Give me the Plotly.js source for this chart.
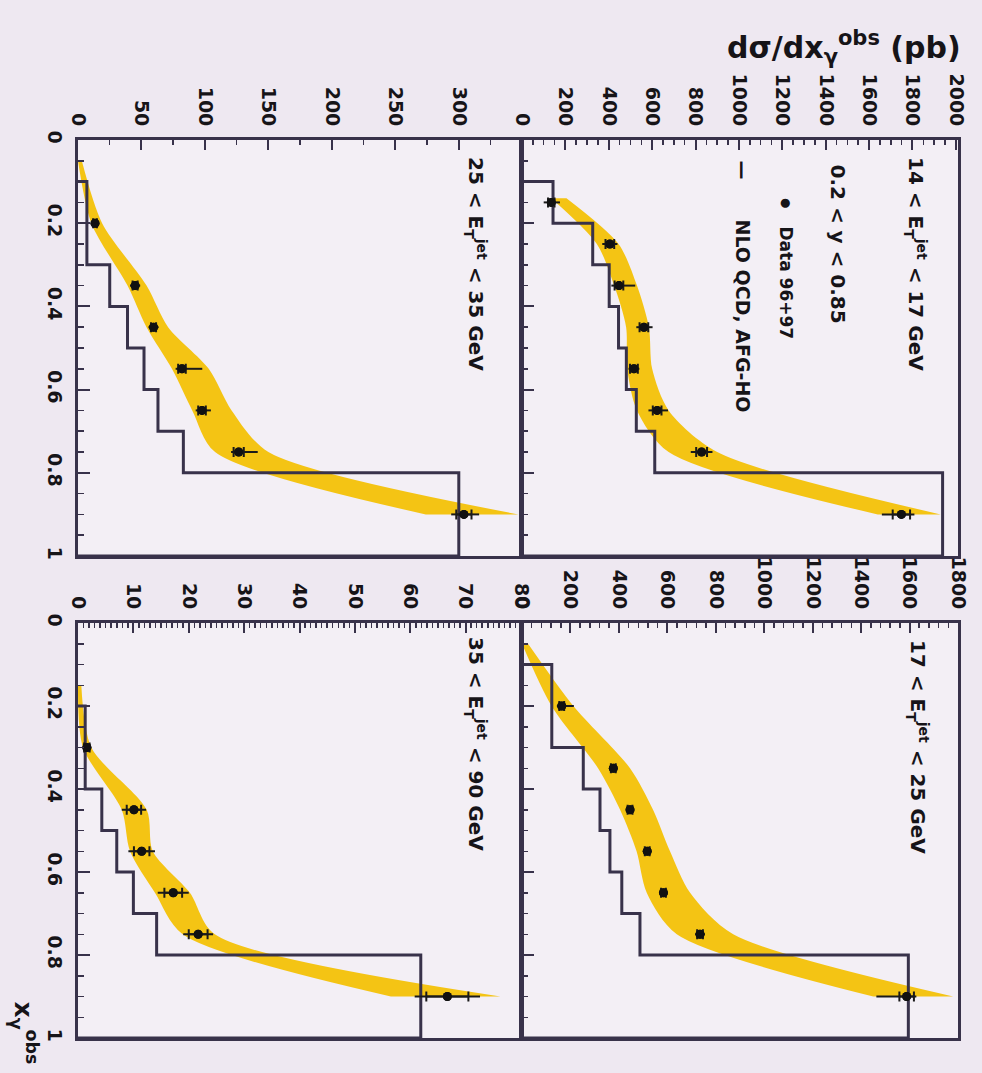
<!DOCTYPE html>
<html>
<head>
<meta charset="utf-8">
<script src="https://cdn.plot.ly/plotly-3.0.1.min.js"></script>
<style>
  html, body { margin: 0; padding: 0; background: #eee8f1; }
  #chart { width: 982px; height: 1073px; }
</style>
</head>
<body>
<div id="chart"></div>
<script>
// ---- 14 < ET(jet) < 17 GeV ----
const edgesA   = [0.1, 0.2, 0.3, 0.4, 0.5, 0.6, 0.7, 0.8, 1.0];
const nloA     = [143, 326, 402, 445, 481, 527, 612, 1939];
const xgA      = [0.15, 0.25, 0.35, 0.45, 0.55, 0.65, 0.75, 0.9];
const dataA    = [135, 405, 447, 562, 516, 623, 828, 1749];
const errUpA   = [40, 35, 75, 40, 25, 50, 50, 60];
const errDnA   = [35, 35, 35, 35, 25, 40, 50, 90];
const statA    = [15, 20, 20, 20, 18, 20, 25, 40];
const bandXgA  = [0.14, 0.25, 0.35, 0.45, 0.55, 0.65, 0.75, 0.9];
const bandLoA  = [135, 345, 425, 480, 485, 530, 676, 1640];
const bandHiA  = [205, 445, 530, 585, 600, 676, 900, 1930];

// ---- 17 < ET(jet) < 25 GeV ----
const edgesB   = [0.1, 0.3, 0.4, 0.5, 0.6, 0.7, 0.8, 1.0];
const nloB     = [123, 253, 322, 363, 412, 487, 1595];
const xgB      = [0.2, 0.35, 0.45, 0.55, 0.65, 0.75, 0.9];
const dataB    = [164, 377, 446, 517, 584, 735, 1588];
const errUpB   = [50, 15, 15, 15, 15, 20, 40];
const errDnB   = [20, 15, 15, 15, 15, 20, 125];
const statB    = [10, 10, 10, 10, 10, 12, 30];
const bandXgB  = [0.05, 0.2, 0.35, 0.45, 0.55, 0.65, 0.75, 0.9];
const bandLoB  = [0, 122, 314, 405, 473, 515, 639, 1450];
const bandHiB  = [25, 212, 446, 541, 611, 694, 872, 1780];

// ---- 25 < ET(jet) < 35 GeV ----
const edgesC   = [0.1, 0.3, 0.4, 0.5, 0.6, 0.7, 0.8, 1.0];
const nloC     = [7, 25, 39, 52, 63, 83, 300];
const xgC      = [0.2, 0.35, 0.45, 0.55, 0.65, 0.75, 0.9];
const dataC    = [13.4, 45, 59.5, 81.9, 97.7, 126.6, 304];
const errUpC   = [3, 4, 4, 16, 7, 15, 12];
const errDnC   = [3, 4, 4, 5, 5, 6, 10];
const statC    = [1.5, 2, 2, 3, 3, 4, 6];
const bandXgC  = [0.05, 0.2, 0.35, 0.45, 0.55, 0.65, 0.75, 0.9];
const bandLoC  = [0, 10.5, 39, 54, 74, 90, 108, 274];
const bandHiC  = [3, 19, 54, 71, 103, 121, 150, 347];

// ---- 35 < ET(jet) < 90 GeV ----
const edgesD   = [0.2, 0.4, 0.5, 0.6, 0.7, 0.8, 1.0];
const nloD     = [1.3, 4.3, 7.0, 10.0, 14.2, 61.9];
const xgD      = [0.3, 0.45, 0.55, 0.65, 0.75, 0.9];
const dataD    = [1.6, 10.1, 11.5, 17.2, 21.7, 66.7];
const errUpD   = [0.8, 2.2, 2.4, 2.8, 2.7, 5.9];
const errDnD   = [0.8, 2.2, 2.4, 2.8, 2.7, 5.9];
const statD    = [0.5, 1.3, 1.4, 1.6, 1.7, 3.8];
const bandXgD  = [0.15, 0.3, 0.45, 0.55, 0.65, 0.75, 0.9];
const bandLoD  = [0, 0.9, 7.9, 9.4, 13.9, 18.9, 56.5];
const bandHiD  = [0.6, 2.4, 12.4, 13.5, 20.2, 24.7, 76.3];

// Axis tick labels
const xgTickVals = [0, 0.2, 0.4, 0.6, 0.8, 1];
const xgTickText = ['0', '0.2', '0.4', '0.6', '0.8', '1'];

const panelLabels = [
  '14 &lt; E<sub>T</sub><sup>jet</sup> &lt; 17 GeV',
  '17 &lt; E<sub>T</sub><sup>jet</sup> &lt; 25 GeV',
  '25 &lt; E<sub>T</sub><sup>jet</sup> &lt; 35 GeV',
  '35 &lt; E<sub>T</sub><sup>jet</sup> &lt; 90 GeV'
];

// ---- page geometry (pixels) ----
const W = 982, H = 1073;
const fx = p => p / W;
const fy = p => 1 - p / H;

const INK = '#38324a';
const TXT = '#161418';
const YEL = '#f4c414';
const FONT = 'DejaVu Sans';

const panels = [
  { id: '',  edges: edgesA, nlo: nloA, xg: xgA, data: dataA, up: errUpA, dn: errDnA, stat: statA,
    bx: bandXgA, blo: bandLoA, bhi: bandHiA, range: [0, 2010], dtick: 200, minor: 50,
    dom: [522, 958], row: 'top', showXg: false },
  { id: '2', edges: edgesB, nlo: nloB, xg: xgB, data: dataB, up: errUpB, dn: errDnB, stat: statB,
    bx: bandXgB, blo: bandLoB, bhi: bandHiB, range: [0, 1800], dtick: 200, minor: 40,
    dom: [522, 958], row: 'bottom', showXg: false },
  { id: '3', edges: edgesC, nlo: nloC, xg: xgC, data: dataC, up: errUpC, dn: errDnC, stat: statC,
    bx: bandXgC, blo: bandLoC, bhi: bandHiC, range: [0, 349], dtick: 50, minor: 25,
    dom: [78, 521], row: 'top', showXg: true },
  { id: '4', edges: edgesD, nlo: nloD, xg: xgD, data: dataD, up: errUpD, dn: errDnD, stat: statD,
    bx: bandXgD, blo: bandLoD, bhi: bandHiD, range: [0, 80], dtick: 10, minor: 1,
    dom: [78, 521], row: 'bottom', showXg: true }
];

const rows = { top: [140, 556], bottom: [623, 1038] };

const traces = [];
const layout = {
  width: W, height: H,
  margin: { l: 0, r: 0, t: 0, b: 0 },
  paper_bgcolor: '#eee8f1',
  plot_bgcolor: '#f3eff5',
  showlegend: false,
  font: { family: FONT, color: TXT },
  annotations: [],
  shapes: []
};

panels.forEach(p => {
  const xa = 'x' + p.id, ya = 'y' + p.id;

  // uncertainty band: lower edge, then upper edge filled back to it
  traces.push({
    x: p.blo, y: p.bx, xaxis: xa, yaxis: ya, type: 'scatter', mode: 'lines',
    line: { width: 0, shape: 'spline', smoothing: 0.8 }, hoverinfo: 'skip'
  });
  traces.push({
    x: p.bhi, y: p.bx, xaxis: xa, yaxis: ya, type: 'scatter', mode: 'lines',
    line: { width: 0, shape: 'spline', smoothing: 0.8 }, fill: 'tonextx',
    fillcolor: YEL, hoverinfo: 'skip'
  });

  // NLO histogram as a step outline along x_gamma
  const hx = [0], hy = [p.edges[0]];
  p.nlo.forEach((v, i) => {
    hx.push(v, v);
    hy.push(p.edges[i], p.edges[i + 1]);
  });
  hx.push(0); hy.push(p.edges[p.edges.length - 1]);
  traces.push({
    x: hx, y: hy, xaxis: xa, yaxis: ya, type: 'scatter', mode: 'lines',
    line: { color: INK, width: 3 }, hoverinfo: 'skip'
  });

  // data: total uncertainty
  traces.push({
    x: p.data, y: p.xg, xaxis: xa, yaxis: ya, type: 'scatter', mode: 'markers',
    marker: { color: '#111', size: 9 },
    error_x: { type: 'data', symmetric: false, array: p.up, arrayminus: p.dn,
               color: '#1a1a1a', thickness: 2, width: 0 }
  });
  // data: statistical uncertainty with caps
  traces.push({
    x: p.data, y: p.xg, xaxis: xa, yaxis: ya, type: 'scatter', mode: 'markers',
    marker: { color: '#111', size: 9 },
    error_x: { type: 'data', array: p.stat, color: '#1a1a1a', thickness: 2, width: 5 }
  });

  const r = rows[p.row];
  layout['xaxis' + p.id] = {
    domain: [fx(p.dom[0]), fx(p.dom[1])], anchor: ya, side: 'top',
    range: p.range, tickmode: 'linear', tick0: 0, dtick: p.dtick,
    ticks: 'inside', ticklen: 10, tickwidth: 2, tickcolor: INK,
    minor: { ticks: 'inside', tick0: 0, dtick: p.minor, ticklen: 5, tickwidth: 1.5, tickcolor: INK },
    showline: true, linewidth: 3, linecolor: INK, mirror: true,
    showgrid: false, zeroline: false, tickangle: 90,
    tickfont: { family: FONT, size: 19, weight: 'bold', color: TXT },
    ticklabelstandoff: 4
  };
  layout['yaxis' + p.id] = {
    domain: [fy(r[1]), fy(r[0])], anchor: xa,
    range: [1, 0], tickmode: 'array', tickvals: xgTickVals, ticktext: xgTickText,
    ticks: 'inside', ticklen: 12, tickwidth: 2, tickcolor: INK,
    minor: { ticks: 'inside', tick0: 0, dtick: 0.05, ticklen: 6, tickwidth: 1.5, tickcolor: INK },
    showline: true, linewidth: 3, linecolor: INK, mirror: true,
    showgrid: false, zeroline: false, tickangle: 90,
    showticklabels: p.showXg,
    tickfont: { family: FONT, size: 19, weight: 'bold', color: TXT },
    ticklabelstandoff: 4
  };
});

// panel labels, written along the x_gamma direction
const labelPos = [[916, 155], [918, 638], [476, 155], [476, 635]];
panelLabels.forEach((t, i) => {
  layout.annotations.push({
    text: t, xref: 'paper', yref: 'paper',
    x: fx(labelPos[i][0]), y: fy(labelPos[i][1]),
    xanchor: 'center', yanchor: 'top', textangle: 90, showarrow: false,
    font: { family: FONT, size: 20, weight: 'bold', color: TXT }
  });
});

// legend block in the first panel
const legendItems = [
  { t: '0.2 &lt; y &lt; 0.85', x: 837, y: 162, s: 20 },
  { t: '●', x: 786, y: 196, s: 12 },
  { t: 'Data 96+97', x: 786, y: 224, s: 17 },
  { t: '—', x: 742, y: 158, s: 19 },
  { t: 'NLO QCD, AFG-HO', x: 742, y: 217, s: 19 }
];
legendItems.forEach(it => {
  layout.annotations.push({
    text: it.t, xref: 'paper', yref: 'paper', x: fx(it.x), y: fy(it.y),
    xanchor: 'center', yanchor: 'top', textangle: 90, showarrow: false,
    font: { family: FONT, size: it.s, weight: 'bold', color: TXT }
  });
});

// axis titles
layout.annotations.push({
  text: 'dσ/dx<sub>γ</sub><sup>obs</sup> (pb)', xref: 'paper', yref: 'paper',
  x: fx(963), y: fy(47), xanchor: 'right', yanchor: 'middle', showarrow: false,
  font: { family: FONT, size: 30, weight: 'bold', color: TXT }
});
layout.annotations.push({
  text: 'x<sub>γ</sub><sup>obs</sup>', xref: 'paper', yref: 'paper',
  x: fx(24), y: fy(1066), xanchor: 'center', yanchor: 'bottom', textangle: 90, showarrow: false,
  font: { family: FONT, size: 25, weight: 'bold', color: TXT }
});

Plotly.newPlot('chart', traces, layout, { staticPlot: true, displayModeBar: false });
</script>
</body>
</html>
